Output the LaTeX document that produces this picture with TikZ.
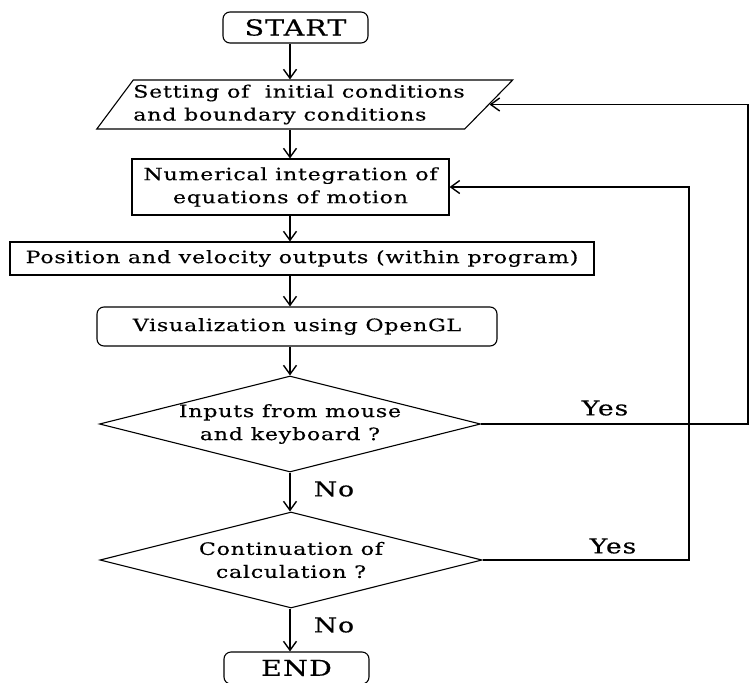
\documentclass[tikz,border=0pt]{standalone}
\usepackage{fontspec}
\setmainfont[FakeStretch=1.3,LetterSpace=4.5,FakeBold=0.4]{DejaVu Serif}
\usetikzlibrary{shapes.geometric,arrows.meta}
\begin{document}
\begin{tikzpicture}[x=1pt,y=-1pt,
  txt/.style={font=\fontsize{17}{23}\selectfont},
  box/.style={txt,draw,line width=1.1pt,inner sep=0pt,align=center},
  term/.style={box,rounded corners=7pt,minimum width=145pt,minimum height=31pt,font=\fontsize{22}{26}\selectfont},
  dec/.style={txt,draw,line width=1.1pt,diamond,aspect=4,inner sep=0pt,align=center,minimum width=380pt,minimum height=96pt},
  arr/.style={line width=1.4pt,-{Straight Barb[length=9pt,width=13pt,line width=1.4pt]}},
  lab/.style={font=\fontsize{20.5}{24}\selectfont}]
\useasboundingbox (0,0) rectangle (750,683);
\clip (0,0) rectangle (750,683);
\coordinate (col) at (290,0);
\coordinate (r1) at (748,0);
\coordinate (r2) at (689,0);
\node[term] (start) at (295.5,27.5) {START};
\node[box,trapezium,trapezium stretches=true,trapezium left angle=47.4,trapezium right angle=140.4,minimum width=414pt,minimum height=49pt,align=left] (para) at (299,104.5) {Setting of \ initial conditions\\and boundary conditions};
\node[box,minimum width=317pt,minimum height=56pt] (num) at (290.5,187) {Numerical integration of\\equations of motion};
\node[box,minimum width=584pt,minimum height=33pt] (pos) at (302,258.5) {Position and velocity outputs (within program)};
\node[box,rounded corners=7pt,minimum width=400pt,minimum height=39pt] (vis) at (297,326.5) {Visualization using OpenGL};
\node[dec] (d1) at (290,424) {Inputs from mouse\\and keyboard ?};
\node[dec,minimum width=382pt] (d2) at (291,560) {Continuation of\\calculation ?};
\node[term,minimum height=32pt] (end) at (296.5,668) {END};
\draw[arr] (start.south -| col) -- (para.north -| col);
\draw[arr] (para.south -| col) -- (num.north -| col);
\draw[arr] (num.south -| col) -- (pos.north -| col);
\draw[arr] (pos.south -| col) -- (vis.north -| col);
\draw[arr] (vis.south -| col) -- (d1.north -| col);
\draw[arr] (d1.south -| col) -- (d2.north -| col);
\draw[arr] (d2.south -| col) -- (end.north -| col);
\draw[arr] (d1.east) -- (d1.east -| r1) -- (r1 |- para.east) -- (para.east);
\draw[arr] (d2.east) -- (d2.east -| r2) -- (r2 |- num.east) -- (num.east);
\node[lab] (yes1) at (605,408) {Yes};
\node[lab] (yes2) at (613,546) {Yes};
\node[lab] (no1) at (334,489) {No};
\node[lab] (no2) at (334,625) {No};
\end{tikzpicture}
\end{document}
